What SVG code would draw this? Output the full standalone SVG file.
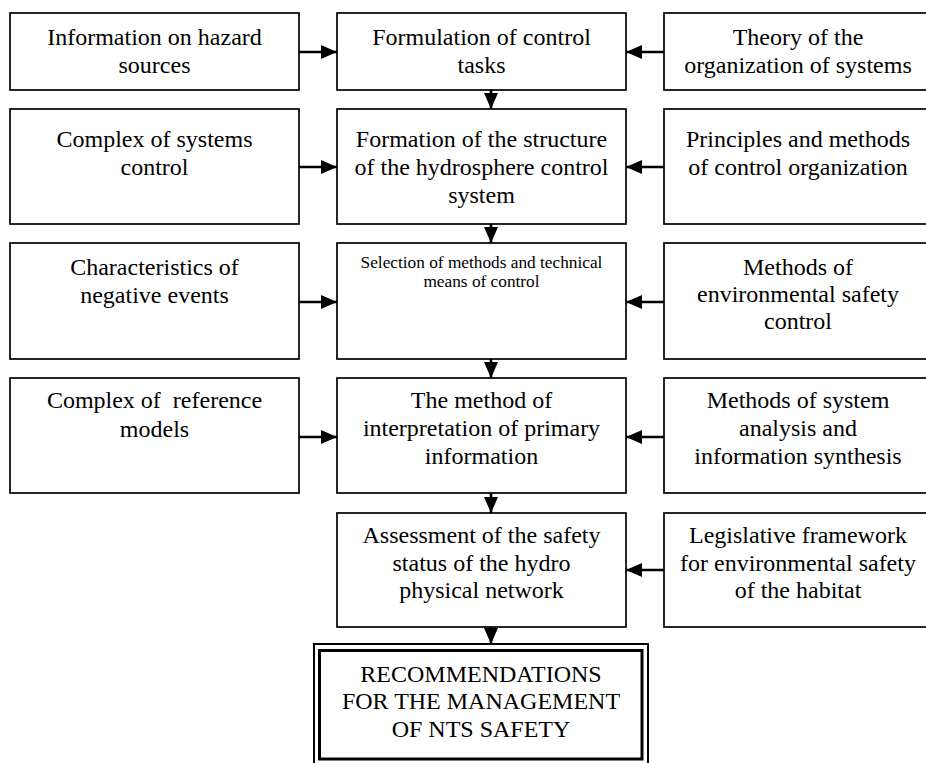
<svg xmlns="http://www.w3.org/2000/svg" width="926" height="763" viewBox="0 0 926 763">
<style>
.box{fill:#fff;stroke:#000;stroke-width:1.7}
.t{font-family:"Liberation Serif","Times New Roman",serif;font-size:24px;fill:#000;text-anchor:middle}
.s{font-family:"Liberation Serif","Times New Roman",serif;font-size:17.3px;fill:#000;text-anchor:middle}
.ln{stroke:#000;stroke-width:2.6;fill:none}
</style>
<defs>
<marker id="ah" markerWidth="16" markerHeight="14" refX="16" refY="7" orient="auto" markerUnits="userSpaceOnUse">
<path d="M0,0 L16,7 L0,14 Z" fill="#000"/>
</marker>
</defs>
<rect width="926" height="763" fill="#fff"/>
<g id="connectors">
<line class="ln" x1="299" y1="52" x2="337" y2="52" marker-end="url(#ah)"/>
<line class="ln" x1="664" y1="52" x2="626" y2="52" marker-end="url(#ah)"/>
<line class="ln" x1="299" y1="167" x2="337" y2="167" marker-end="url(#ah)"/>
<line class="ln" x1="664" y1="167" x2="626" y2="167" marker-end="url(#ah)"/>
<line class="ln" x1="299" y1="302" x2="337" y2="302" marker-end="url(#ah)"/>
<line class="ln" x1="664" y1="302" x2="626" y2="302" marker-end="url(#ah)"/>
<line class="ln" x1="299" y1="437" x2="337" y2="437" marker-end="url(#ah)"/>
<line class="ln" x1="664" y1="437" x2="626" y2="437" marker-end="url(#ah)"/>
<line class="ln" x1="664" y1="570" x2="626" y2="570" marker-end="url(#ah)"/>
<line class="ln" x1="491" y1="90" x2="491" y2="109" marker-end="url(#ah)"/>
<line class="ln" x1="491" y1="224" x2="491" y2="243" marker-end="url(#ah)"/>
<line class="ln" x1="491" y1="359" x2="491" y2="378" marker-end="url(#ah)"/>
<line class="ln" x1="491" y1="493" x2="491" y2="513" marker-end="url(#ah)"/>
<line class="ln" x1="491" y1="627" x2="491" y2="644" marker-end="url(#ah)"/>
</g>
<g id="n1"><rect class="box" x="10" y="13" width="289" height="77"/>
<text class="t" x="154.5" y="45">Information on hazard</text><text class="t" x="154.5" y="73">sources</text></g>
<g id="n2"><rect class="box" x="337" y="13" width="289" height="77"/>
<text class="t" x="481.5" y="45">Formulation of control</text><text class="t" x="481.5" y="73">tasks</text></g>
<g id="n3"><rect class="box" x="664" y="13" width="270" height="77"/>
<text class="t" x="798" y="45">Theory of the</text><text class="t" x="798" y="73">organization of systems</text></g>
<g id="n4"><rect class="box" x="10" y="109" width="289" height="115"/>
<text class="t" x="154.5" y="147">Complex of systems</text><text class="t" x="154.5" y="175">control</text></g>
<g id="n5"><rect class="box" x="337" y="109" width="289" height="115"/>
<text class="t" x="481.5" y="147">Formation of the structure</text><text class="t" x="481.5" y="175">of the hydrosphere control</text><text class="t" x="481.5" y="203">system</text></g>
<g id="n6"><rect class="box" x="664" y="109" width="270" height="115"/>
<text class="t" x="798" y="147">Principles and methods</text><text class="t" x="798" y="175">of control organization</text></g>
<g id="n7"><rect class="box" x="10" y="243" width="289" height="116"/>
<text class="t" x="154.5" y="275">Characteristics of</text><text class="t" x="154.5" y="303">negative events</text></g>
<g id="n8"><rect class="box" x="337" y="243" width="289" height="116"/>
<text class="s" x="481.5" y="268">Selection of methods and technical</text><text class="s" x="481.5" y="287">means of control</text></g>
<g id="n9"><rect class="box" x="664" y="243" width="270" height="116"/>
<text class="t" x="798" y="275">Methods of</text><text class="t" x="798" y="302">environmental safety</text><text class="t" x="798" y="329">control</text></g>
<g id="n10"><rect class="box" x="10" y="378" width="289" height="115"/>
<text class="t" x="154.5" y="408" xml:space="preserve">Complex of  reference</text><text class="t" x="154.5" y="437">models</text></g>
<g id="n11"><rect class="box" x="337" y="378" width="289" height="115"/>
<text class="t" x="481.5" y="408">The method of</text><text class="t" x="481.5" y="436">interpretation of primary</text><text class="t" x="481.5" y="464">information</text></g>
<g id="n12"><rect class="box" x="664" y="378" width="270" height="115"/>
<text class="t" x="798" y="408">Methods of system</text><text class="t" x="798" y="436">analysis and</text><text class="t" x="798" y="464">information synthesis</text></g>
<g id="n13"><rect class="box" x="337" y="513" width="289" height="114"/>
<text class="t" x="481.5" y="543">Assessment of the safety</text><text class="t" x="481.5" y="571">status of the hydro</text><text class="t" x="481.5" y="598">physical network</text></g>
<g id="n14"><rect class="box" x="664" y="513" width="270" height="114"/>
<text class="t" x="798" y="543">Legislative framework</text><text class="t" x="798" y="571">for environmental safety</text><text class="t" x="798" y="598">of the habitat</text></g>
<g id="n15">
<rect x="314" y="644" width="334" height="124" fill="#fff" stroke="#000" stroke-width="2"/>
<rect x="319.5" y="650.5" width="322.5" height="108.5" fill="none" stroke="#000" stroke-width="3"/>
<text class="t" x="481" y="682">RECOMMENDATIONS</text><text class="t" x="481" y="709">FOR THE MANAGEMENT</text><text class="t" x="481" y="737">OF NTS SAFETY</text></g>
</svg>
